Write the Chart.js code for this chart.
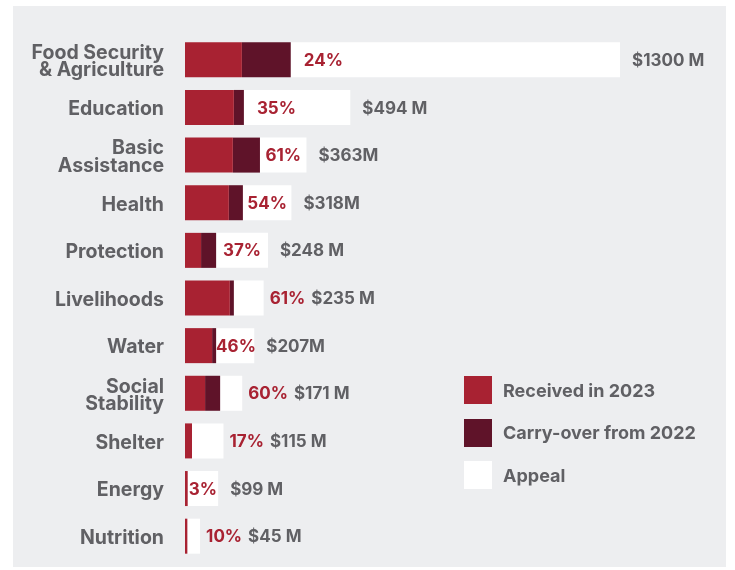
<!DOCTYPE html>
<html>
<head>
<meta charset="utf-8">
<script src="https://cdn.jsdelivr.net/npm/chart.js@4"></script>
<style>
  html, body { margin: 0; padding: 0; background: #fff; }
  #wrap { position: relative; width: 735px; height: 570px; }
  #panel { position: absolute; left: 13px; top: 6px; width: 713px; height: 561px; background: #edeef0; }
  #chartBox { position: absolute; left: 0; top: 0; width: 735px; height: 570px; }
  #legend { position: absolute; left: 464px; top: 376px; font: bold 18px Inter, sans-serif; color: #606064; }
  .item { display: flex; align-items: center; height: 28px; margin-bottom: 14.5px; }
  .swatch { width: 28px; height: 28px; margin-right: 11px; }
</style>
</head>
<body>
<div id="wrap">
  <div id="panel"></div>
  <div id="chartBox"><canvas id="chart"></canvas></div>
  <div id="legend">
    <div class="item"><span class="swatch" style="background:#a82232"></span>Received in 2023</div>
    <div class="item"><span class="swatch" style="background:#5f1329"></span>Carry-over from 2022</div>
    <div class="item"><span class="swatch" style="background:#ffffff"></span>Appeal</div>
  </div>
</div>
<script>
const sectors = [
  ["Food Security", "& Agriculture"],
  "Education",
  ["Basic", "Assistance"],
  "Health",
  "Protection",
  "Livelihoods",
  "Water",
  ["Social", "Stability"],
  "Shelter",
  "Energy",
  "Nutrition"
];

// $ millions
const appeal = [1300, 494, 363, 318, 248, 235, 207, 171, 115, 99, 45];
const received2023 = [170, 146, 143, 131, 48, 134, 81, 60, 21, 8, 7];
const carryOver2022 = [146, 30, 81, 42, 45, 12, 12, 45, 0, 0, 0];
const fundedPct = ["24%", "35%", "61%", "54%", "37%", "61%", "46%", "60%", "17%", "3%", "10%"];
const appealLabels = ["$1300 M", "$494 M", "$363M", "$318M", "$248 M", "$235 M", "$207M", "$171 M", "$115 M", "$99 M", "$45 M"];

const RED = "#a82232";
const DARK = "#5f1329";
const GREY_TEXT = "#606064";
const FONT = "Inter, sans-serif";

const remaining = appeal.map((a, i) => a - received2023[i] - carryOver2022[i]);

const barLabels = {
  id: "barLabels",
  afterDatasetsDraw(chart) {
    const ctx = chart.ctx;
    const carryMeta = chart.getDatasetMeta(1);
    const whiteMeta = chart.getDatasetMeta(2);
    ctx.save();
    ctx.textBaseline = "middle";
    ctx.textAlign = "left";
    ctx.font = "bold 17px " + FONT;
    sectors.forEach((s, i) => {
      const colEnd = carryMeta.data[i].x;
      const whiteEnd = whiteMeta.data[i].x;
      const y = whiteMeta.data[i].y + 1;
      const w = ctx.measureText(fundedPct[i]).width;
      const room = whiteEnd - colEnd;
      let px, amountX;
      if (room + 3 >= w) {
        px = colEnd + Math.max(0, Math.min(13, (room - w) / 2));
        amountX = Math.max(whiteEnd + 12, px + w + 6);
      } else {
        px = whiteEnd + 6;
        amountX = px + w + 6;
      }
      ctx.fillStyle = RED;
      ctx.fillText(fundedPct[i], px, y);
      ctx.fillStyle = GREY_TEXT;
      ctx.fillText(appealLabels[i], amountX, y);
    });
    ctx.restore();
  }
};

new Chart(document.getElementById("chart"), {
  type: "bar",
  data: {
    labels: sectors,
    datasets: [
      { label: "Received in 2023", data: received2023, backgroundColor: RED },
      { label: "Carry-over from 2022", data: carryOver2022, backgroundColor: DARK },
      { label: "Appeal", data: remaining, backgroundColor: "#ffffff" }
    ]
  },
  options: {
    indexAxis: "y",
    responsive: true,
    maintainAspectRatio: false,
    animation: false,
    events: [],
    layout: { padding: { top: 36, bottom: 10, right: 115, left: 0 } },
    datasets: {
      bar: { categoryPercentage: 1, barPercentage: 0.735, borderWidth: 0 }
    },
    scales: {
      x: { stacked: true, min: 0, max: 1300, display: false },
      y: {
        stacked: true,
        grid: { display: false, drawTicks: false },
        border: { display: false },
        afterFit(scale) {
          scale.width = 185;
          scale.paddingTop = 0;
          scale.paddingBottom = 0;
        },
        ticks: {
          padding: 21,
          labelOffset: 2,
          color: GREY_TEXT,
          font: { family: FONT, size: 19.5, weight: "bold", lineHeight: 0.88 }
        }
      }
    },
    plugins: { legend: { display: false }, tooltip: { enabled: false } }
  },
  plugins: [barLabels]
});
</script>
</body>
</html>
